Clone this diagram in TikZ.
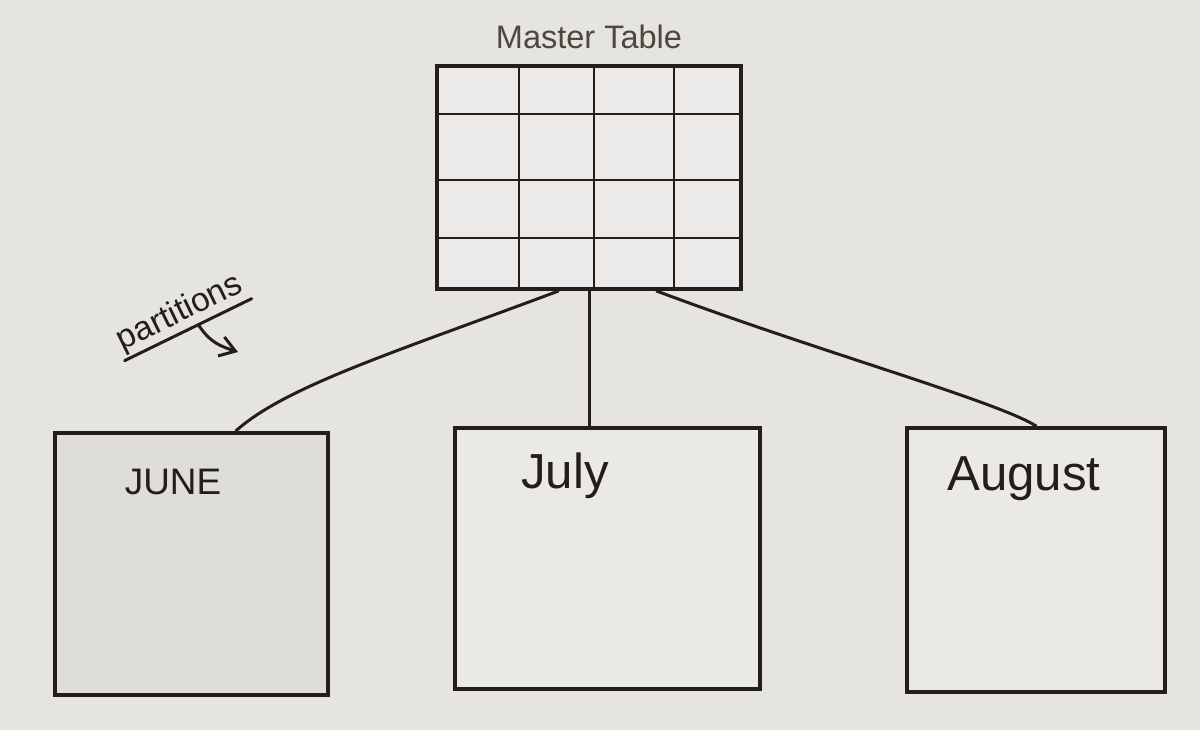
\documentclass[tikz,border=0pt]{standalone}
\usepackage{fontspec}
\setmainfont{Liberation Sans}
\usetikzlibrary{arrows.meta, calc, positioning}
\definecolor{paper}{HTML}{E5E4E1}
\definecolor{ink}{HTML}{231E1A}
\definecolor{pencil}{HTML}{4F463E}
\definecolor{tablefill}{HTML}{EBEAE8}
\definecolor{junefill}{HTML}{DEDDDA}
\definecolor{monthfill}{HTML}{EAE9E6}
\tikzset{
  sketch box/.style={
    draw=ink,
    line width=2.4pt,      % thick pen outline
    fill=#1,
    inner sep=0pt
  },
  grid line/.style={draw=ink, line width=1.2pt},
  link/.style={draw=ink, line width=1.7pt, line cap=round},
  month/.style={text=ink, anchor=base, inner sep=0pt, font=\fontsize{28}{30}\selectfont},
  title/.style={text=pencil, inner sep=0pt, font=\fontsize{18.5}{20}\selectfont},
  note/.style={text=ink, inner sep=1.5pt, font=\fontsize{19}{21}\selectfont}
}

\begin{document}
\begin{tikzpicture}[x=0.02cm, y=-0.02cm]
    % Paper
    \fill[paper] (0,0) rectangle (1200,730);
    \useasboundingbox (0,0) rectangle (1200,730);

    % Master table with its grid
    \node[sketch box=tablefill, minimum width=6.08cm, minimum height=4.46cm] (table) at (589,177.5) {};
    \foreach \f in {0.273, 0.516, 0.776}
      \draw[grid line] ($(table.north west)!\f!(table.north east)$) -- ($(table.south west)!\f!(table.south east)$);
    \foreach \f in {0.22, 0.511, 0.767}
      \draw[grid line] ($(table.north west)!\f!(table.south west)$) -- ($(table.north east)!\f!(table.south east)$);
    \node[title, above=0.3cm of table] (tabletitle) {Master Table};

    % Partition boxes
    \node[sketch box=junefill, minimum width=5.46cm, minimum height=5.24cm] (june) at (191.5,564) {};
    \node[sketch box=monthfill, minimum width=6.1cm, minimum height=5.22cm] (july) at (607.5,558.5) {};
    \node[sketch box=monthfill, minimum width=5.16cm, minimum height=5.28cm] (august) at (1036,560) {};
    \node[month, font=\fontsize{21}{24}\selectfont] (junetext) at (173,494) {JUNE};
    \node[month] (julytext) at (565,488) {July};
    \node[month] (augusttext) at (1024,490) {August};

    % Connectors
    \coordinate (tableJune) at ($(table.south west)!0.4!(table.south east)$);
    \coordinate (tableAugust) at ($(table.south west)!0.72!(table.south east)$);
    \coordinate (juneIn) at ($(june.north west)!0.66!(june.north east)$);
    \draw[link] (tableJune) .. controls +(-160,60) and +(50,-45) .. (juneIn);
    \draw[link] (table.south) -- (table.south |- july.north);
    \draw[link] (tableAugust) .. controls +(160,60) and +(-40,-25) .. (august.north);

    % Note
    \node[note, rotate=26] (parttext) at (180,313) {partitions};
    \draw[link] (parttext.south west) -- (parttext.south east);
    \coordinate (partmid) at ($(parttext.south west)!0.58!(parttext.south east)$);
    \coordinate (partend) at (238,352);
    \draw[link, -{Straight Barb[length=3mm, width=4mm]}] (partmid) .. controls +(12,18) and +(-18,-6) .. (partend);
\end{tikzpicture}
\end{document}
